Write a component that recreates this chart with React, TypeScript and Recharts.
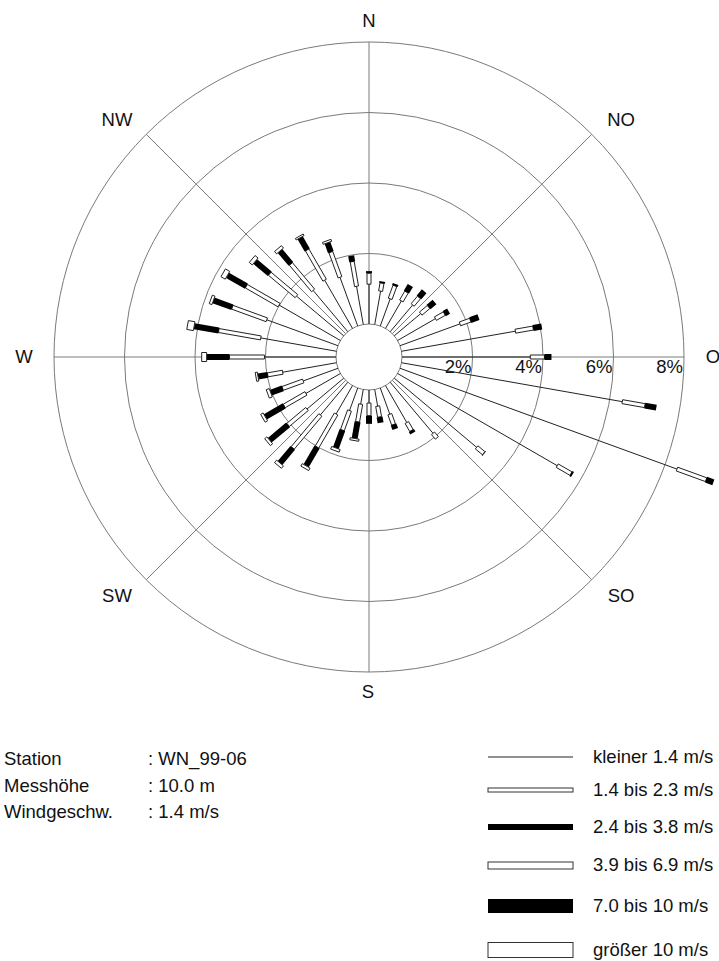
import React from 'react';
import { RadialBarChart, RadialBar, PolarGrid, PolarAngleAxis, PolarRadiusAxis } from 'recharts';

// Windrichtung in 10°-Schritten, im Uhrzeigersinn ab Nord
const DIRECTIONS = [
  '0', '10', '20', '30', '40', '50', '60', '70', '80', '90', '100', '110',
  '120', '130', '140', '150', '160', '170', '180', '190', '200', '210', '220', '230',
  '240', '250', '260', '270', '280', '290', '300', '310', '320', '330', '340', '350',
];

// Häufigkeiten in % je Geschwindigkeitsklasse
const LESS_1_4 = [
  1.13, 0.96, 0.82, 0.9, 0.99, 0.98, 1.24, 1.81, 3.28, 3.64, 6.36, 8.36,
  5.23, 3.05, 1.89, 1.21, 0.79, 0.48, 0.37, 0.42, 0.68, 0.93, 1.21, 1.36,
  1.13, 1.05, 1.55, 2.03, 2.18, 2.15, 2.01, 1.75, 1.53, 1.58, 1.47, 1.1,
];
const FROM_1_4 = [
  0.31, 0.23, 0.39, 0.29, 0.28, 0.29, 0.29, 0.31, 0.51, 0.4, 0.65, 0.88,
  0.45, 0.26, 0.17, 0.26, 0.31, 0.31, 0.36, 0.51, 0.59, 1.08, 1.22, 0.7,
  0.71, 0.62, 0.43, 0.99, 1.21, 1.04, 1.07, 0.99, 0.98, 0.99, 0.76, 0.71,
];
const FROM_2_4 = [
  0.06, 0.05, 0.06, 0.22, 0.23, 0.22, 0.14, 0.25, 0.25, 0.2, 0.33, 0.22,
  0.05, 0.02, 0, 0.08, 0.14, 0.17, 0.23, 0.48, 0.54, 0.62, 0.56, 0.68,
  0.62, 0.36, 0.28, 0.65, 0.71, 0.57, 0.62, 0.54, 0.48, 0.4, 0.28, 0.17,
];
const FROM_3_9 = [
  0, 0, 0, 0, 0, 0, 0, 0, 0, 0, 0, 0,
  0, 0, 0, 0, 0, 0, 0, 0.06, 0.08, 0.08, 0.09, 0.08,
  0.08, 0.09, 0.06, 0.14, 0.19, 0.08, 0.14, 0.11, 0.09, 0.05, 0.06, 0,
];
const FROM_7_0 = [
  0, 0, 0, 0, 0, 0, 0, 0, 0, 0, 0, 0,
  0, 0, 0, 0, 0, 0, 0, 0, 0, 0, 0, 0,
  0, 0, 0, 0, 0, 0, 0, 0, 0, 0, 0, 0,
];
const ABOVE_10 = [
  0, 0, 0, 0, 0, 0, 0, 0, 0, 0, 0, 0,
  0, 0, 0, 0, 0, 0, 0, 0, 0, 0, 0, 0,
  0, 0, 0, 0, 0, 0, 0, 0, 0, 0, 0, 0,
];

const CLASS_LABELS = [
  'kleiner 1.4 m/s',
  '1.4 bis 2.3 m/s',
  '2.4 bis 3.8 m/s',
  '3.9 bis 6.9 m/s',
  '7.0 bis 10 m/s',
  'größer 10 m/s',
];
// Ringe bei 0..8 %; die Balken-Skala reicht bis 10 %, damit der längste Balken über den Rand ragt
const RADIUS_TICKS = [0, 2, 4, 6, 8];
const GRID_DOMAIN = [0, 8];
const BAR_DOMAIN = [0, 10];
const COMPASS = ['N', 'NO', 'O', 'SO', 'S', 'SW', 'W', 'NW'];
const INFO_KEYS = ['Station', 'Messhöhe', 'Windgeschw.'];
const INFO_VALUES = [': WN_99-06', ': 10.0 m', ': 1.4 m/s'];

const rows = DIRECTIONS.map((dir, i) => ({
  dir,
  c1: LESS_1_4[i],
  c2: FROM_1_4[i],
  c3: FROM_2_4[i],
  c4: FROM_3_9[i],
  c5: FROM_7_0[i],
  c6: ABOVE_10[i],
}));

const FONT = '"Liberation Sans", Arial, sans-serif';
const FS = 18.5;
const W = 719;
const CX = 369;
const CY = 357;
const INNER_R = 33;
const RING_R = 315; // 8 %
const BAR_OUTER_R = INNER_R + ((RING_R - INNER_R) * BAR_DOMAIN[1]) / GRID_DOMAIN[1];

// Darstellung der Klassen: Breite des Balkens, Füllung
const STYLES = [
  { key: 'c1', width: 1, fill: 'none' },
  { key: 'c2', width: 4, fill: '#fff' },
  { key: 'c3', width: 6, fill: '#000' },
  { key: 'c4', width: 9, fill: '#fff' },
  { key: 'c5', width: 13, fill: '#000' },
  { key: 'c6', width: 15, fill: '#fff' },
];
const LEGEND_HEIGHTS = [1, 4, 6, 7, 14, 15];
const LEGEND_Y = [757, 790, 827, 865.5, 906, 950];

function segmentShape(width: number, fill: string) {
  return (props: any) => {
    const { cx, cy, innerRadius, outerRadius, startAngle, endAngle } = props;
    if (!(outerRadius - innerRadius > 0.05)) return <g />;
    const a = (-(startAngle + endAngle) / 2) * (Math.PI / 180);
    const ux = Math.cos(a);
    const uy = Math.sin(a);
    const x1 = cx + innerRadius * ux;
    const y1 = cy + innerRadius * uy;
    const x2 = cx + outerRadius * ux;
    const y2 = cy + outerRadius * uy;
    if (width <= 1) {
      return <line x1={x1} y1={y1} x2={x2} y2={y2} stroke="#222" strokeWidth={1} />;
    }
    const h = width / 2;
    const nx = -uy * h;
    const ny = ux * h;
    const pts = [
      [x1 + nx, y1 + ny],
      [x2 + nx, y2 + ny],
      [x2 - nx, y2 - ny],
      [x1 - nx, y1 - ny],
    ]
      .map((p) => p.join(','))
      .join(' ');
    const outlined = fill !== '#000';
    return (
      <polygon
        points={pts}
        fill={fill}
        stroke={outlined ? '#222' : 'none'}
        strokeWidth={outlined ? 1 : 0}
      />
    );
  };
}

const renderRadiusTick = (props: any) => {
  const { x, y, payload } = props;
  if (payload.value === 0) return <g />;
  return (
    <text x={x - 1} y={y + 16} textAnchor="end" fontSize={FS} fontFamily={FONT} fill="#111">
      {payload.value}%
    </text>
  );
};

// Position der Himmelsrichtungen (Textmitte, Grundlinie)
const COMPASS_POS = [
  [369, 27], [621, 126], [713, 363], [621, 602],
  [368, 698], [117, 602], [24, 363], [117, 126],
];

export default function App() {
  return (
    <div style={{ position: 'relative', width: W, height: 961, overflow: 'hidden', background: '#fff' }}>
      <style>{'html,body{margin:0;padding:0;overflow:hidden;background:#fff}'}</style>

      {/* Gitter: Ringe 0-8 % und Hauptrichtungen */}
      <div style={{ position: 'absolute', left: 0, top: 0 }}>
        <RadialBarChart
          width={W}
          height={720}
          cx={CX}
          cy={CY}
          innerRadius={INNER_R}
          outerRadius={RING_R}
          startAngle={85}
          endAngle={-275}
          layout="centric"
          data={rows}
          margin={{ top: 0, right: 0, bottom: 0, left: 0 }}
        >
          <PolarGrid
            gridType="circle"
            polarAngles={[90, 45, 0, -45, -90, -135, -180, -225]}
            stroke="#7a7a7a"
            strokeWidth={1}
          />
          <PolarAngleAxis type="category" dataKey="dir" tick={false} axisLine={false} tickLine={false} />
          <PolarRadiusAxis
            type="number"
            domain={GRID_DOMAIN}
            ticks={RADIUS_TICKS}
            allowDataOverflow
            angle={0}
            axisLine={false}
            tickLine={false}
            tick={renderRadiusTick}
          />
        </RadialBarChart>
      </div>

      {/* Balken */}
      <div style={{ position: 'absolute', left: 0, top: 0 }}>
        <RadialBarChart
          width={W}
          height={720}
          cx={CX}
          cy={CY}
          innerRadius={INNER_R}
          outerRadius={BAR_OUTER_R}
          startAngle={85}
          endAngle={-275}
          layout="centric"
          data={rows}
          margin={{ top: 0, right: 0, bottom: 0, left: 0 }}
        >
          <PolarAngleAxis type="category" dataKey="dir" tick={false} axisLine={false} tickLine={false} />
          <PolarRadiusAxis type="number" domain={BAR_DOMAIN} axisLine={false} tickLine={false} tick={false} />
          {STYLES.map((s) => (
            <RadialBar
              key={s.key}
              dataKey={s.key}
              stackId="wind"
              isAnimationActive={false}
              shape={segmentShape(s.width, s.fill)}
            />
          ))}
        </RadialBarChart>
      </div>

      <svg
        width={W}
        height={961}
        style={{ position: 'absolute', left: 0, top: 0, pointerEvents: 'none' }}
        fontFamily={FONT}
        fontSize={FS}
      >
        {COMPASS.map((c, i) => (
          <text key={c} x={COMPASS_POS[i][0]} y={COMPASS_POS[i][1]} textAnchor="middle" fill="#111">
            {c}
          </text>
        ))}

        {INFO_KEYS.map((k, i) => (
          <g key={k}>
            <text x={4} y={765 + i * 26.5} fill="#111">{k}</text>
            <text x={148} y={765 + i * 26.5} fill="#111">{INFO_VALUES[i]}</text>
          </g>
        ))}

        {CLASS_LABELS.map((label, i) => {
          const h = LEGEND_HEIGHTS[i];
          const yc = LEGEND_Y[i];
          const s = STYLES[i];
          return (
            <g key={label}>
              {h <= 1 ? (
                <line x1={488} y1={yc} x2={573} y2={yc} stroke="#222" strokeWidth={1} />
              ) : (
                <rect
                  x={488}
                  y={yc - h / 2}
                  width={85}
                  height={h}
                  fill={s.fill}
                  stroke={s.fill === '#000' ? 'none' : '#333'}
                  strokeWidth={1}
                />
              )}
              <text x={593} y={yc + 5.5} fill="#111">{label}</text>
            </g>
          );
        })}
      </svg>
    </div>
  );
}
